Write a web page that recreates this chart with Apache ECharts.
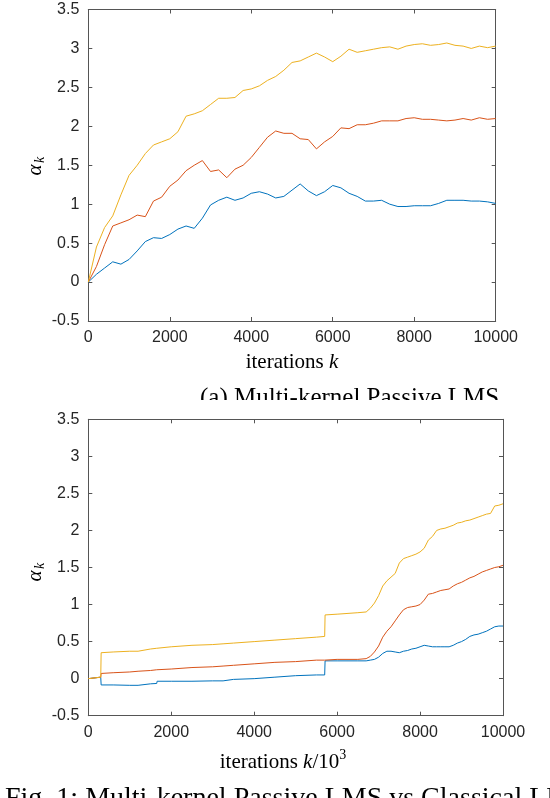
<!DOCTYPE html>
<html><head><meta charset="utf-8">
<script src="https://cdn.jsdelivr.net/npm/echarts@6/dist/echarts.min.js"></script>
<style>html,body{margin:0;padding:0;background:#fff}#c{width:550px;height:798px}</style>
</head><body><div id="c"></div>
<script>
// ---- Data ----
const topIter = [0,200,400,600,800,1000,1200,1400,1600,1800,2000,2200,2400,2600,2800,3000,3200,3400,3600,3800,4000,4200,4400,4600,4800,5000,5200,5400,5600,5800,6000,6200,6400,6600,6800,7000,7200,7400,7600,7800,8000,8200,8400,8600,8800,9000,9200,9400,9600,9800,10000];
const topBlue = [0,0.10,0.18,0.26,0.23,0.29,0.40,0.52,0.57,0.56,0.61,0.68,0.72,0.69,0.82,0.99,1.05,1.09,1.05,1.08,1.14,1.16,1.13,1.08,1.10,1.18,1.26,1.17,1.11,1.16,1.24,1.21,1.14,1.10,1.04,1.04,1.05,1.00,0.97,0.97,0.98,0.98,0.98,1.01,1.05,1.05,1.05,1.04,1.04,1.03,1.01];
const topRed = [0,0.20,0.48,0.72,0.76,0.80,0.86,0.84,1.04,1.09,1.23,1.31,1.43,1.50,1.56,1.42,1.44,1.34,1.45,1.50,1.60,1.73,1.86,1.94,1.91,1.91,1.84,1.83,1.71,1.80,1.87,1.98,1.97,2.02,2.02,2.04,2.07,2.07,2.07,2.10,2.11,2.09,2.09,2.08,2.07,2.08,2.10,2.08,2.11,2.09,2.10];
const topYellow = [0,0.45,0.70,0.85,1.12,1.37,1.50,1.65,1.76,1.80,1.84,1.93,2.13,2.16,2.20,2.28,2.36,2.36,2.37,2.46,2.48,2.52,2.59,2.64,2.72,2.82,2.84,2.89,2.94,2.89,2.83,2.90,2.99,2.95,2.97,2.99,3.01,3.02,2.99,3.03,3.05,3.06,3.04,3.05,3.07,3.04,3.03,3.00,3.03,3.01,3.03];

const botIter = [0,300,310,600,1000,1200,1210,1500,1650,1660,2000,2500,3000,3250,3260,3500,4000,4500,5000,5500,5700,5710,6000,6500,6700,6800,6900,7000,7100,7200,7300,7400,7500,7600,7700,7800,7900,8000,8100,8200,8300,8400,8500,8600,8700,8800,8900,9000,9100,9200,9300,9400,9500,9600,9700,9800,9900,10000];
const botBlue = [0,0.02,-0.085,-0.085,-0.09,-0.09,-0.07,-0.07,-0.065,-0.035,-0.035,-0.035,-0.03,-0.03,-0.01,-0.01,0.0,0.02,0.04,0.05,0.05,0.24,0.24,0.24,0.24,0.25,0.26,0.29,0.34,0.37,0.37,0.36,0.35,0.37,0.38,0.40,0.41,0.43,0.45,0.44,0.43,0.43,0.43,0.43,0.43,0.45,0.48,0.50,0.53,0.57,0.59,0.60,0.62,0.64,0.67,0.70,0.71,0.71];
const botRed = [0,0.02,0.07,0.08,0.09,0.10,0.10,0.11,0.12,0.12,0.13,0.15,0.16,0.17,0.17,0.18,0.20,0.22,0.23,0.25,0.25,0.25,0.26,0.26,0.27,0.30,0.36,0.44,0.56,0.64,0.70,0.78,0.86,0.93,0.96,0.97,0.98,1.00,1.06,1.14,1.15,1.17,1.19,1.20,1.21,1.25,1.28,1.30,1.33,1.36,1.38,1.41,1.44,1.46,1.48,1.50,1.51,1.53];
const botYellow = [0,0.02,0.35,0.36,0.37,0.37,0.38,0.40,0.41,0.41,0.43,0.45,0.46,0.47,0.47,0.48,0.50,0.52,0.54,0.56,0.57,0.86,0.87,0.89,0.90,0.95,1.02,1.12,1.25,1.32,1.37,1.42,1.56,1.62,1.64,1.66,1.68,1.71,1.76,1.87,1.92,2.00,2.02,2.03,2.05,2.07,2.10,2.11,2.13,2.14,2.16,2.18,2.20,2.22,2.23,2.33,2.34,2.36];

const xRange = [0, 10000, 2000];
const yRange = [-0.5, 3.5, 0.5];
const topCaption = '(a) Multi-kernel Passive LMS';
const figCaption = 'Fig. 1: Multi-kernel Passive LMS vs Classical LMS';

// ---- Styling ----
const SERIF = '"Liberation Serif", "Times New Roman", serif';
const SANS = '"Liberation Sans", Arial, Helvetica, sans-serif';
const COLORS = ['#0072BD', '#D95319', '#EDB120'];
const AXIS = '#555555';
const LABEL = '#262626';

const mctx = document.createElement('canvas').getContext('2d');
function tw(text, font) { mctx.font = font; return mctx.measureText(text).width; }
function fontOf(p) { return (p.italic ? 'italic ' : '') + p.size + 'px ' + SERIF; }
function run(pieces, cx, cy) {
  const widths = pieces.map(p => tw(p.t, fontOf(p)));
  const total = widths.reduce((a, b) => a + b, 0);
  let x = cx - total / 2;
  return pieces.map((p, i) => {
    const el = { type: 'text', x: x, y: cy + (p.dy || 0), z: 50,
      style: { text: p.t, font: fontOf(p), fill: '#000', align: 'left', verticalAlign: 'middle' } };
    x += widths[i];
    return el;
  });
}
function yLabel(cx, cy) {
  return { type: 'group', x: cx, y: cy, rotation: Math.PI / 2, z: 50, children: [
    { type: 'text', x: -3, y: 0, style: { text: 'α', font: 'italic 21px ' + SERIF, fill: '#000', align: 'center', verticalAlign: 'middle' } },
    { type: 'text', x: 4, y: 5, style: { text: 'k', font: 'italic 14px ' + SERIF, fill: '#000', align: 'left', verticalAlign: 'middle' } }
  ] };
}

function mkX(grid, pos, showLabel) {
  return { type: 'value', gridIndex: grid, position: pos, min: xRange[0], max: xRange[1], interval: xRange[2],
    axisLine: { show: true, onZero: false, lineStyle: { color: AXIS, width: 1 } },
    axisTick: { show: true, inside: true, length: 4, lineStyle: { color: AXIS } },
    axisLabel: { show: showLabel, color: LABEL, fontFamily: SANS, fontSize: 16, margin: 9, formatter: v => String(v) },
    splitLine: { show: false } };
}
function mkY(grid, pos, showLabel) {
  return { type: 'value', gridIndex: grid, position: pos, min: yRange[0], max: yRange[1], interval: yRange[2],
    axisLine: { show: true, onZero: false, lineStyle: { color: AXIS, width: 1 } },
    axisTick: { show: true, inside: true, length: 4, lineStyle: { color: AXIS } },
    axisLabel: { show: showLabel, color: LABEL, fontFamily: SANS, fontSize: 16, margin: 9, formatter: v => String(v) },
    splitLine: { show: false } };
}
function mkSeries(iter, vals, color, axisIdx) {
  return { type: 'line', xAxisIndex: axisIdx, yAxisIndex: axisIdx, data: iter.map((k, i) => [k, vals[i]]),
    showSymbol: false, symbol: 'none', lineStyle: { color: color, width: 1 }, itemStyle: { color: color },
    animation: false, silent: true, clip: true };
}

const graphics = [].concat(
  [yLabel(35, 167), yLabel(35, 573)],
  run([{ t: 'iterations ', size: 21 }, { t: 'k', size: 21, italic: true }], 292, 362.5),
  run([{ t: 'iterations ', size: 21 }, { t: 'k', size: 21, italic: true }, { t: '/10', size: 21 }, { t: '3', size: 14, dy: -7 }], 283, 762),
  [{ type: 'text', x: 200, y: 398.5, z: 40, style: { text: topCaption, font: '25px ' + SERIF, fill: '#000', align: 'left', verticalAlign: 'middle' } },
   { type: 'rect', z: 45, shape: { x: 0, y: 400, width: 550, height: 12 }, style: { fill: '#fff' } },
   { type: 'text', x: 5, y: 798.5, z: 40, style: { text: figCaption, font: '28px ' + SERIF, fill: '#000', align: 'left', verticalAlign: 'middle' } }]
);

const chart = echarts.init(document.getElementById('c'), null, { renderer: 'canvas' });
chart.setOption({
  backgroundColor: '#fff',
  animation: false,
  grid: [
    { left: 88.3, top: 9.5, width: 407.4, height: 311.5, containLabel: false },
    { left: 88.3, top: 419.3, width: 414.7, height: 296.4, containLabel: false }
  ],
  xAxis: [mkX(0, 'bottom', true), mkX(1, 'bottom', true), mkX(0, 'top', false), mkX(1, 'top', false)],
  yAxis: [mkY(0, 'left', true), mkY(1, 'left', true), mkY(0, 'right', false), mkY(1, 'right', false)],
  series: [
    mkSeries(topIter, topBlue, COLORS[0], 0),
    mkSeries(topIter, topRed, COLORS[1], 0),
    mkSeries(topIter, topYellow, COLORS[2], 0),
    mkSeries(botIter, botBlue, COLORS[0], 1),
    mkSeries(botIter, botRed, COLORS[1], 1),
    mkSeries(botIter, botYellow, COLORS[2], 1)
  ],
  graphic: graphics
});
</script>
</body></html>
